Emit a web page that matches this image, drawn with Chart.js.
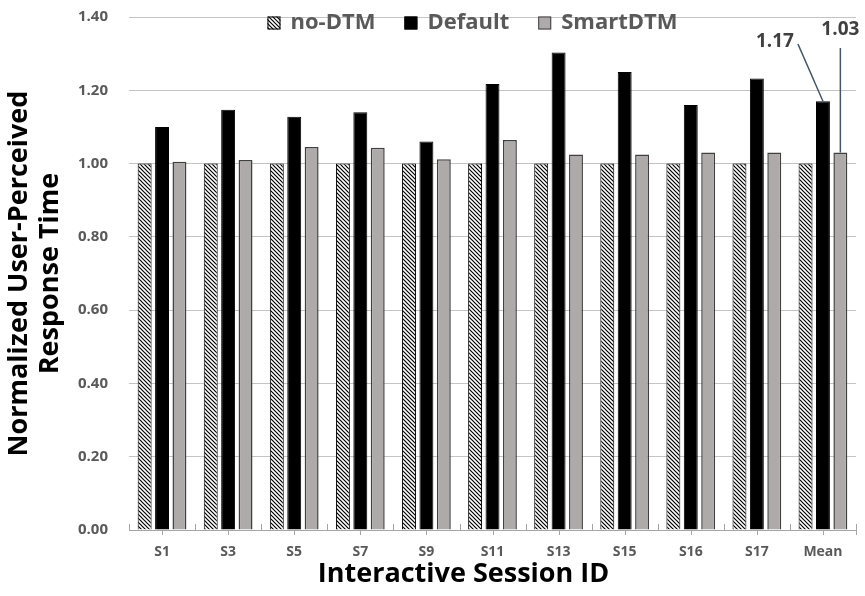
<!DOCTYPE html>
<html lang="en">
<head>
<meta charset="UTF-8">
<title>Normalized User-Perceived Response Time</title>
<script src="https://cdn.jsdelivr.net/npm/chart.js@4.4.0/dist/chart.umd.min.js"></script>
<style>
  body { margin: 0; background: #fff; }
  #wrap { width: 865px; height: 596px; position: relative; }
</style>
</head>
<body>
<div id="wrap"><canvas id="chart"></canvas></div>
<script>
  // data
  const sessions = ['S1', 'S3', 'S5', 'S7', 'S9', 'S11', 'S13', 'S15', 'S16', 'S17', 'Mean'];
  const noDtm = [1.00, 1.00, 1.00, 1.00, 1.00, 1.00, 1.00, 1.00, 1.00, 1.00, 1.00];
  const defaultDtm = [1.10, 1.147, 1.128, 1.14, 1.06, 1.217, 1.303, 1.25, 1.16, 1.232, 1.17];
  const smartDtm = [1.005, 1.01, 1.045, 1.043, 1.012, 1.064, 1.025, 1.025, 1.03, 1.03, 1.03];
  const yTickValues = [0, 0.2, 0.4, 0.6, 0.8, 1.0, 1.2, 1.4];
  const xTitle = 'Interactive Session ID';
  const callouts = [
    { text: '1.17', dataset: 1, index: 10 },
    { text: '1.03', dataset: 2, index: 10 }
  ];

  const FONT = "'Open Sans', 'Noto Sans', sans-serif";
  const GREY_TXT = '#595959';

  // diagonal hatch for no-DTM
  function hatch() {
    const c = document.createElement('canvas');
    c.width = 4; c.height = 4;
    const g = c.getContext('2d');
    g.fillStyle = '#fff';
    g.fillRect(0, 0, 4, 4);
    g.strokeStyle = '#000';
    g.lineWidth = 1.2;
    g.beginPath();
    g.moveTo(-1, -1); g.lineTo(5, 5);
    g.moveTo(-1, 3); g.lineTo(1, 5);
    g.moveTo(3, -1); g.lineTo(5, 1);
    g.stroke();
    return g.createPattern(c, 'repeat');
  }

  // legend drawn inside the plot, over the top gridline
  const topLegend = {
    id: 'topLegend',
    afterDraw(chart) {
      const ctx = chart.ctx;
      ctx.save();
      ctx.font = 'bold 22px ' + FONT;
      ctx.textBaseline = 'middle';
      const y = chart.chartArea.top + 6, box = 13, gap = 10, spacing = 29;
      const items = chart.data.datasets.map(d => ({ d, w: box + gap + ctx.measureText(d.label).width }));
      const total = items.reduce((s, it) => s + it.w, 0) + spacing * (items.length - 1);
      let x = (chart.chartArea.left + chart.chartArea.right) / 2 - total / 2 - 20;
      items.forEach(it => {
        ctx.fillStyle = it.d.backgroundColor;
        ctx.fillRect(x, y - box / 2, box, box);
        ctx.lineWidth = 1;
        ctx.strokeStyle = it.d.borderColor;
        ctx.strokeRect(x + 0.5, y - box / 2 + 0.5, box - 1, box - 1);
        ctx.fillStyle = GREY_TXT;
        ctx.fillText(it.d.label, x + box + gap, y);
        x += it.w + spacing;
      });
      ctx.restore();
    }
  };

  // x axis: short ticks up at category boundaries, down at centers; axis title
  const axisTicks = {
    id: 'axisTicks',
    afterDraw(chart) {
      const ctx = chart.ctx;
      const xs = chart.scales.x;
      const area = chart.chartArea;
      const yb = area.bottom;
      const step = xs.getPixelForValue(1) - xs.getPixelForValue(0);
      ctx.save();
      ctx.strokeStyle = '#a6a6a6';
      ctx.lineWidth = 1;
      ctx.beginPath();
      for (let i = 0; i < sessions.length; i++) {
        const cx = Math.round(xs.getPixelForValue(i)) + 0.5;
        ctx.moveTo(cx, yb); ctx.lineTo(cx, yb + 5);
        const bx = Math.round(cx - step / 2) + 0.5;
        ctx.moveTo(bx, yb); ctx.lineTo(bx, yb - 6);
      }
      const ex = Math.round(xs.getPixelForValue(sessions.length - 1) + step / 2) + 0.5;
      ctx.moveTo(ex, yb - 6); ctx.lineTo(ex, yb + 5);
      ctx.stroke();

      ctx.font = 'bold 27px ' + FONT;
      ctx.fillStyle = '#000';
      ctx.textAlign = 'center';
      ctx.textBaseline = 'middle';
      ctx.fillText(xTitle, (area.left + area.right) / 2 - 29, yb + 44);
      ctx.restore();
    }
  };

  // value callouts on the Mean group
  const calloutPlugin = {
    id: 'callouts',
    afterDatasetsDraw(chart) {
      const ctx = chart.ctx;
      const top = chart.chartArea.top;
      ctx.save();
      ctx.font = 'bold 19px ' + FONT;
      ctx.textAlign = 'center';
      ctx.textBaseline = 'middle';
      ctx.strokeStyle = '#44546a';
      ctx.lineWidth = 1.5;
      callouts.forEach((c, k) => {
        const bar = chart.getDatasetMeta(c.dataset).data[c.index];
        ctx.beginPath();
        let tx, ty;
        if (k === 0) {
          tx = bar.x - 48; ty = top + 25;
          ctx.moveTo(tx + 23, ty + 2);
          ctx.lineTo(bar.x, bar.y);
        } else {
          tx = bar.x; ty = top + 13;
          ctx.moveTo(bar.x, top + 31);
          ctx.lineTo(bar.x, bar.y);
        }
        ctx.stroke();
        ctx.fillStyle = '#404040';
        ctx.fillText(c.text, tx, ty);
      });
      ctx.restore();
    }
  };

  const ctx = document.getElementById('chart').getContext('2d');
  const myChart = new Chart(ctx, {
    type: 'bar',
    data: {
      labels: sessions,
      datasets: [
        { label: 'no-DTM', data: noDtm, backgroundColor: hatch(), borderColor: '#000', borderWidth: 1 },
        { label: 'Default', data: defaultDtm, backgroundColor: '#000', borderColor: '#000', borderWidth: 1 },
        { label: 'SmartDTM', data: smartDtm, backgroundColor: '#aeaaaa', borderColor: '#404040', borderWidth: 1.5 }
      ]
    },
    options: {
      responsive: true,
      maintainAspectRatio: false,
      animation: false,
      layout: { padding: { top: 17, right: 9, left: 0, bottom: 0 } },
      datasets: { bar: { categoryPercentage: 0.79, barPercentage: 0.8 } },
      plugins: {
        legend: { display: false },
        tooltip: { enabled: false }
      },
      scales: {
        x: {
          grid: { display: false },
          border: { display: true, color: '#a6a6a6', width: 1 },
          ticks: { color: GREY_TXT, font: { family: FONT, size: 14, weight: 'bold' }, padding: 6 },
          afterFit(scale) { scale.height = 66; }
        },
        y: {
          min: 0, max: 1.4,
          afterBuildTicks(scale) { scale.ticks = yTickValues.map(v => ({ value: v })); },
          grid: { color: '#c4c4c4', lineWidth: 1, drawTicks: false },
          border: { display: false },
          ticks: {
            color: GREY_TXT, padding: 21,
            font: { family: FONT, size: 15, weight: 'bold' },
            callback: v => v.toFixed(2)
          },
          title: {
            display: true, text: ['Normalized User-Perceived', 'Response Time'], color: '#000',
            font: { family: FONT, size: 27, weight: 'bold', lineHeight: 1.18 }, padding: { top: 3, bottom: 0 }
          },
          afterFit(scale) {
            scale.width = 129;
            scale.paddingTop = 0;
            scale.paddingBottom = 0;
          }
        }
      }
    },
    plugins: [topLegend, axisTicks, calloutPlugin]
  });
</script>
</body>
</html>
